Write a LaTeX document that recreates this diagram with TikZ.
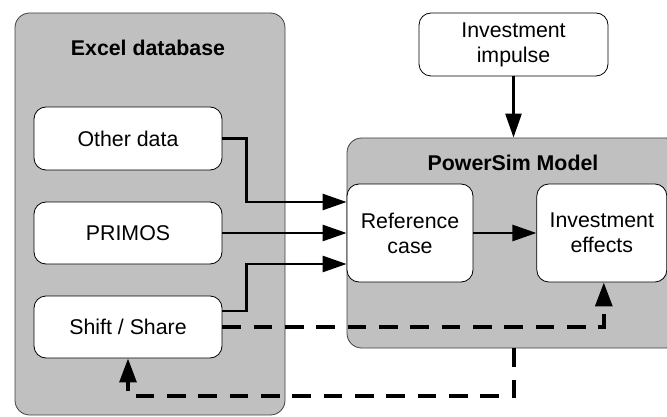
\documentclass[tikz,border=0pt]{standalone}
\usepackage{fontspec}
\setmainfont{Liberation Sans}
\usepackage{tikz}
\usetikzlibrary{arrows.meta,positioning,calc}
\definecolor{PanelGray}{RGB}{192,192,192}
\definecolor{PanelEdge}{RGB}{64,64,64}

\begin{document}
\begin{tikzpicture}[
  x=0.75pt,y=-0.75pt,
  font=\fontsize{16pt}{18.75pt}\selectfont,
  panel/.style={
    draw=PanelEdge,fill=PanelGray,rounded corners=11pt,
    line width=0.6pt,inner sep=0pt
  },
  box/.style={
    draw,fill=white,rounded corners=9pt,align=center,
    line width=0.6pt,inner sep=0pt
  },
  title/.style={font=\fontsize{16pt}{18.75pt}\selectfont\bfseries},
  arr/.style={-{Triangle[length=18pt,width=12pt]},line width=2pt},
  dasharr/.style={-{Triangle[length=18pt,width=12.5pt]},line width=3pt,
    dash pattern=on 14pt off 9.5pt}
]
  \useasboundingbox (0,0) rectangle (667,417);
  \clip (0,0) rectangle (667,417);

  % containers
  \node[panel,minimum width=202.5pt,minimum height=301.5pt] (excel) at (150,214) {};
  \node[title] (exceltitle) at (148,48) {Excel database};
  \node[panel,minimum width=249.75pt,minimum height=157.5pt] (psim) at (513.5,243) {};
  \node[title] (psimtitle) at (513,163) {PowerSim Model};

  % data sources
  \node[box,minimum width=141pt,minimum height=47.25pt] (other) at (128,138.5) {Other data};
  \node[box,minimum width=141pt,minimum height=46.5pt] (primos) at (128,233) {PRIMOS};
  \node[box,minimum width=141pt,minimum height=46.5pt] (shift) at (128,327) {Shift / Share};

  % model parts
  \node[box,minimum width=94.5pt,minimum height=73.5pt] (ref) at (410,233) {Reference\\case};
  \node[box,minimum width=97.5pt,minimum height=73.5pt,right=47.25pt of ref] (inveff) {Investment\\effects};
  \node[box,minimum width=141.75pt,minimum height=47.25pt] (impulse) at (513.5,44.5) {Investment\\impulse};

  % solid flows
  \draw[arr] (impulse) -- (psim.north);
  \draw[arr] (other.east) -- ++(24,0) |- ($(ref.west)+(0,-31)$);
  \draw[arr] (primos.east) -- (ref.west);
  \draw[arr] ($(shift.east)+(0,-16)$) -- ++(24,0) |- ($(ref.west)+(0,31)$);
  \draw[arr] (ref) -- (inveff);

  % feedback loops
  \draw[dasharr] (shift.east) -| ($(inveff.south)+(2,0)$);
  \draw[dasharr] (psim.south) -- ++(0,48) -| (shift.south);
\end{tikzpicture}
\end{document}
